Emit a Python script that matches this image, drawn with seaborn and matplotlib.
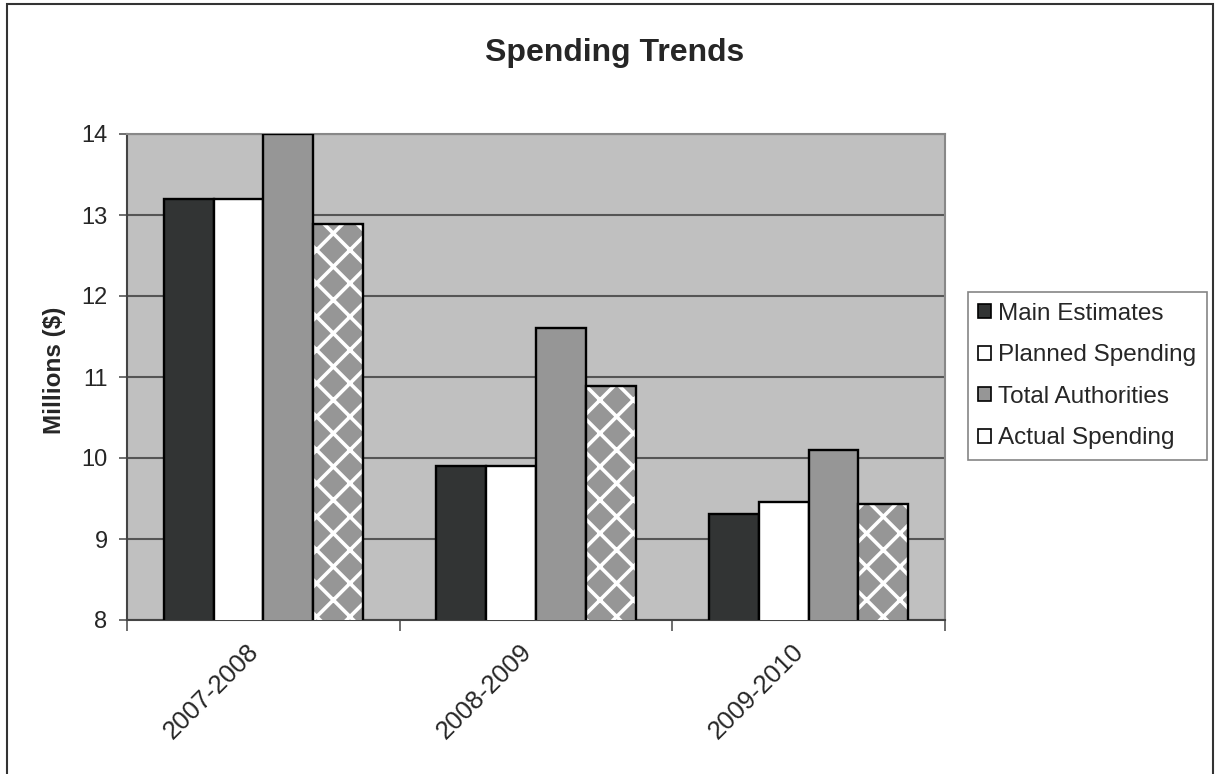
import pandas as pd
import seaborn as sns
import matplotlib
import matplotlib.pyplot as plt
import matplotlib.transforms as mtransforms
from matplotlib.patches import Patch, Rectangle

#%% data
years = ['2007-2008', '2008-2009', '2009-2010']
series = ['Main Estimates', 'Planned Spending', 'Total Authorities', 'Actual Spending']
main_estimates = [13.2, 9.9, 9.31]
planned_spending = [13.2, 9.9, 9.46]
total_authorities = [14.0, 11.6, 10.1]
actual_spending = [12.89, 10.89, 9.43]

#%% plot setup
sns.set_style("white")
plt.rcParams['font.family'] = ['Liberation Sans', 'DejaVu Sans']
plt.rcParams['hatch.linewidth'] = 2.6

colors = ['#323434', '#ffffff', '#969696', '#ffffff']
palette = dict(zip(series, colors))

df = pd.DataFrame({'year': years * 4,
                   'series': sum([[s] * 3 for s in series], []),
                   'value': main_estimates + planned_spending + total_authorities + actual_spending})

fig = plt.figure(figsize=(12.17, 7.74), dpi=100)
ax = fig.add_axes([127/1217, 1 - 620/774, 818/1217, 486/774])
ax.set_facecolor('#c0c0c0')

sns.barplot(data=df, x='year', y='value', hue='series', palette=palette, width=0.73,
            edgecolor='black', linewidth=1.7, ax=ax, legend=False, zorder=3)

# checkerboard fill for actual spending: gray with white cross hatch, then outline
for p in ax.containers[3]:
    p.set_facecolor('#969696')
    p.set_edgecolor('white')
    p.set_hatch('x')
    p.set_linewidth(0)
    ax.add_patch(Rectangle(p.get_xy(), p.get_width(), p.get_height(), fill=False,
                           edgecolor='black', linewidth=1.7, zorder=4))

ax.set_ylim(8, 14)
ax.set_xlim(-0.5, 2.5)
ax.set_yticks(range(8, 15))
ax.yaxis.grid(True, color='#555555', linewidth=1.5, zorder=0)
ax.set_axisbelow(True)
ax.tick_params(axis='y', labelsize=17, length=6, width=1.2, color='#555555', direction='out', left=True, pad=8)
ax.tick_params(axis='x', which='major', length=0, labelsize=18.5, pad=14)
ax.set_xticks([-0.5, 0.5, 1.5, 2.5], minor=True)
ax.tick_params(axis='x', which='minor', length=8, width=1.2, color='#555555', direction='out', bottom=True)
shift = mtransforms.ScaledTranslation(-17/100, 0, fig.dpi_scale_trans)
for lbl in ax.get_xticklabels():
    lbl.set_rotation(45)
    lbl.set_ha('right')
    lbl.set_rotation_mode('anchor')
    lbl.set_transform(lbl.get_transform() + shift)

for side in ['left', 'bottom']:
    ax.spines[side].set_color('#444444')
    ax.spines[side].set_linewidth(1.5)
for side in ['top', 'right']:
    ax.spines[side].set_color('#888888')
    ax.spines[side].set_linewidth(1.5)

ax.set_xlabel(None)
ax.set_ylabel('Millions ($)', fontsize=17.5, fontweight='bold')
ax.yaxis.set_label_coords(-0.075, 0.514)

fig.text(0.505, 0.931, 'Spending Trends', fontsize=23, fontweight='bold', ha='center', va='center')

handles = [Patch(facecolor=c, edgecolor='black', linewidth=1.2) for c in colors]
leg = fig.legend(handles, series, loc='center left', bbox_to_anchor=(0.795, 0.514),
                 bbox_transform=fig.transFigure, fontsize=17.5, frameon=True, fancybox=False,
                 handlelength=0.5, handleheight=0.5, handletextpad=0.3, labelspacing=0.8,
                 borderpad=0.45, borderaxespad=0)
leg.get_frame().set_edgecolor('#666666')
leg.get_frame().set_linewidth(1.2)

# outer chart border
fig.patches.append(Rectangle((7/1217, -0.01), 1206/1217, 1 - 4/774 + 0.01, transform=fig.transFigure,
                             fill=False, edgecolor='#333333', linewidth=1.5))

fig.savefig('out.png', dpi=100)
